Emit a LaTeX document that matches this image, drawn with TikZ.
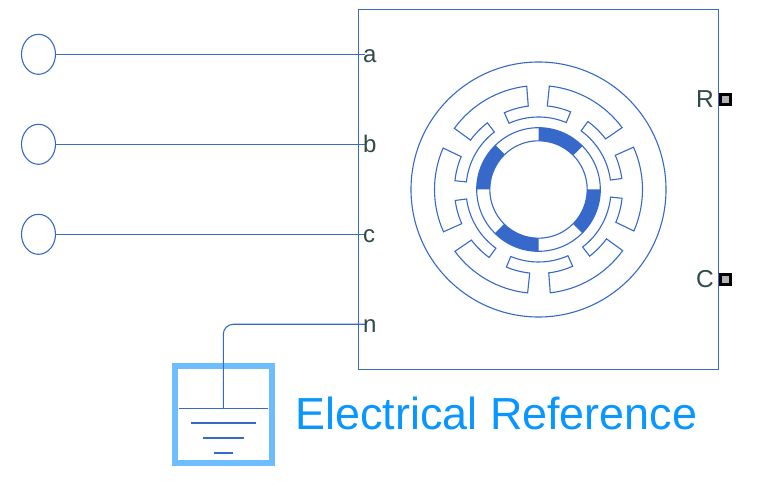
\documentclass[tikz,border=0pt]{standalone}
\usepackage{fontspec}
\setmainfont{Liberation Sans}
\usetikzlibrary{shapes.geometric}
\definecolor{wire}{HTML}{3669C9}
\definecolor{labelc}{HTML}{2F4A4A}
\definecolor{refblue}{HTML}{6EBEFF}
\definecolor{reftext}{HTML}{0A96FF}
\tikzset{
  wireline/.style={draw=wire,line width=1.1pt},
  sourcenode/.style={ellipse,draw=wire,line width=1.1pt,minimum width=34pt,minimum height=40pt,inner sep=0pt,outer sep=0pt},
  blocknode/.style={rectangle,draw=wire,line width=1.1pt,minimum width=360pt,minimum height=360pt,inner sep=0pt,outer sep=0pt},
  refnode/.style={rectangle,draw=refblue,line width=6pt,minimum width=97pt,minimum height=97pt,inner sep=0pt,outer sep=0pt},
  portlabel/.style={text=labelc,font=\fontsize{24}{24}\selectfont,inner sep=0pt,anchor=base west},
  portname/.style={text=labelc,font=\fontsize{24.5}{24.5}\selectfont,inner sep=0pt,anchor=base east},
  portbox/.style={rectangle,draw=black,fill=black!30,line width=3pt,minimum width=10.5pt,minimum height=10.5pt,inner sep=0pt,outer sep=0pt}
}
\begin{document}
\begin{tikzpicture}[x=1pt,y=1pt]
\useasboundingbox (0,0) rectangle (778,481);
% main block
\node[blocknode] (block) at (538.5,291.5) {};
% sources
\node[sourcenode] (s1) at (38.5,426.7) {};
\node[sourcenode] (s2) at (38.5,336.7) {};
\node[sourcenode] (s3) at (38.5,246.7) {};
\coordinate (pa) at (365,426.7);
\coordinate (pb) at (365,336.7);
\coordinate (pc) at (365,246.7);
\coordinate (pn) at (365,156.7);
\draw[wireline] (s1) -- (pa);
\draw[wireline] (s2) -- (pb);
\draw[wireline] (s3) -- (pc);
% labels
\node[portlabel] (la) at (363,418) {a};
\node[portlabel] (lb) at (363,328) {b};
\node[portlabel] (lc) at (363,238) {c};
\node[portlabel] (ln) at (363,148) {n};
\node[portname] (lr) at (714,373.5) {R};
\node[portname] (lcc) at (714,193.5) {C};
\node[portbox] (pr) at (725.5,381.5) {};
\node[portbox] (pcc) at (725.5,201.5) {};
% electrical reference
\node[refnode] (ref) at (223.5,66.5) {};
\coordinate (gtop) at (223.3,72.7);
\draw[wireline,rounded corners=10pt] (pn) -| (gtop);
\draw[wireline] (179,72.7) -- (268,72.7);
\draw[wireline] (190.5,58) -- (256,58);
\draw[wireline] (202.5,43) -- (244,43);
\draw[wireline] (214,28) -- (232.5,28);
\node[text=reftext,font=\fontsize{44.9}{44.9}\selectfont,inner sep=0pt,anchor=base west] (reflabel) at (295.3,51) {Electrical Reference};
% machine drawing
\begin{scope}[shift={(538.5,291.5)}]
  \draw[wireline] (0,0) circle[radius=127.5pt];
  \draw[wireline] (96.5:104)
    \foreach \o in {0,60,120,180,240,300} {
      -- (96.5+\o:104) arc[start angle=96.5+\o,end angle=144+\o,radius=104pt]
      -- (144+\o:84) arc[start angle=144+\o,end angle=127.5+\o,radius=84pt]
      -- (127.5+\o:72.5) arc[start angle=127.5+\o,end angle=174+\o,radius=72.5pt]
      -- (174+\o:84) arc[start angle=174+\o,end angle=157+\o,radius=84pt]
    } -- cycle;
  \draw[wireline] (0,0) circle[radius=48.7pt];
  \draw[wireline] (0,0) circle[radius=61.8pt];
  \foreach \a/\b in {44.6/90,134/180,-45/0,225/270} {
    \fill[wire] (\a:48.7) arc[start angle=\a,end angle=\b,radius=48.7pt]
      -- (\b:61.8) arc[start angle=\b,end angle=\a,radius=61.8pt] -- cycle;
  }
\end{scope}
\end{tikzpicture}
\end{document}
